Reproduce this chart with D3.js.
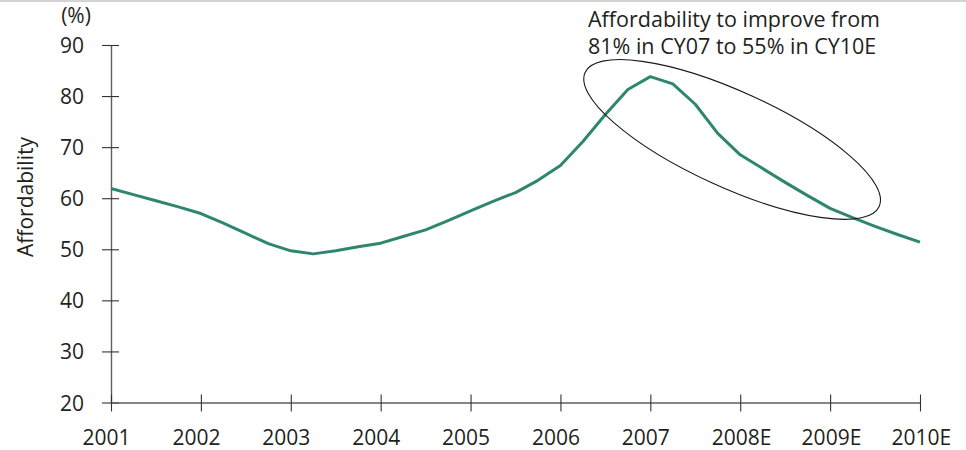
<!DOCTYPE html>
<html>
<head>
<meta charset="utf-8">
<script src="https://cdn.jsdelivr.net/npm/d3@7/dist/d3.min.js"></script>
<style>
  html, body { margin: 0; padding: 0; background: #fff; }
  svg text { font-family: "Open Sans", "Noto Sans", sans-serif; fill: #231f20; }
</style>
</head>
<body>
<svg id="chart" width="966" height="450"></svg>
<script>
// Quarterly housing affordability index, 2001 to 2010E (%)
const periods = [
  2001.00, 2001.25, 2001.50, 2001.75, 2002.00, 2002.25, 2002.50, 2002.75,
  2003.00, 2003.25, 2003.50, 2003.75, 2004.00, 2004.25, 2004.50, 2004.75,
  2005.00, 2005.25, 2005.50, 2005.75, 2006.00, 2006.25, 2006.50, 2006.75,
  2007.00, 2007.25, 2007.50, 2007.75, 2008.00, 2008.25, 2008.50, 2008.75,
  2009.00, 2009.25, 2009.50, 2009.75, 2010.00
];
const affordability = [
  61.9, 60.7, 59.5, 58.3, 57.0, 55.1, 53.1, 51.1,
  49.7, 49.1, 49.7, 50.5, 51.2, 52.5, 53.8, 55.6,
  57.5, 59.4, 61.1, 63.5, 66.4, 71.1, 76.4, 81.3,
  83.8, 82.4, 78.4, 72.7, 68.5, 65.8, 63.1, 60.5,
  58.0, 56.2, 54.5, 52.9, 51.4
];
const yearTicks = [2001, 2002, 2003, 2004, 2005, 2006, 2007, 2008, 2009, 2010];
const yearLabels = ["2001", "2002", "2003", "2004", "2005", "2006", "2007", "2008E", "2009E", "2010E"];
const valueTicks = [20, 30, 40, 50, 60, 70, 80, 90];
const noteLines = ["Affordability to improve from", "81% in CY07 to 55% in CY10E"];

const svg = d3.select("#chart");

// thin rule along the top edge
svg.append("rect").attr("x", 0).attr("y", 0).attr("width", 966).attr("height", 2).attr("fill", "#d4d4d4");

const x = d3.scaleLinear().domain([2001, 2010]).range([111, 920]);
const y = d3.scaleLinear().domain([20, 90]).range([402.5, 45]);

const axisColor = "#5e5e60";

// y axis with ticks crossing the axis line
const gy = svg.append("g").attr("transform", `translate(${x(2001)},0)`)
  .call(d3.axisLeft(y).tickValues(valueTicks).tickSizeInner(9).tickSizeOuter(0).tickPadding(18).tickFormat(d3.format("d")));
gy.select(".domain").attr("stroke", axisColor).attr("stroke-width", 1.4);
gy.selectAll(".tick line").attr("x1", 8).attr("stroke", "#333").attr("stroke-width", 1.1);
gy.selectAll(".tick text").attr("font-size", 21).attr("fill", "#231f20").attr("font-family", "Open Sans").attr("dy", "0.36em");

// x axis
const gx = svg.append("g").attr("transform", `translate(0,${y(20)})`)
  .call(d3.axisBottom(x).tickValues(yearTicks).tickSizeInner(9).tickSizeOuter(0)
    .tickFormat((d, i) => yearLabels[i]));
gx.select(".domain").attr("stroke", axisColor).attr("stroke-width", 1.4);
gx.selectAll(".tick line").attr("y1", -8).attr("stroke", "#333").attr("stroke-width", 1.1);
gx.selectAll(".tick text")
  .attr("font-size", 21).attr("fill", "#231f20").attr("font-family", "Open Sans")
  .attr("text-anchor", "start").attr("x", -29).attr("y", 42).attr("dy", 0);

// axis titles
svg.append("text").attr("x", 76).attr("y", 23).attr("text-anchor", "middle").attr("font-size", 21).text("(%)");
svg.append("text").attr("transform", "translate(33,197) rotate(-90)")
  .attr("text-anchor", "middle").attr("font-size", 21).text("Affordability");

// series line
const line = d3.line().x((d, i) => x(periods[i])).y(d => y(d));
svg.append("path").datum(affordability)
  .attr("d", line).attr("fill", "none").attr("stroke", "#2f8670")
  .attr("stroke-width", 3).attr("stroke-linejoin", "round");

// annotation ring around the 2007 peak and decline
svg.append("ellipse")
  .attr("transform", `translate(${x(2007.91)},${y(71.5)}) rotate(24.5)`)
  .attr("rx", 161.6).attr("ry", 47.8)
  .attr("fill", "none").attr("stroke", "#1a1a1a").attr("stroke-width", 1.1);

const note = svg.append("text").attr("x", 588).attr("y", 27).attr("font-size", 21.5);
noteLines.forEach((t, i) => {
  note.append("tspan").attr("x", 588).attr("dy", i === 0 ? 0 : 26.5).text(t);
});
</script>
</body>
</html>
